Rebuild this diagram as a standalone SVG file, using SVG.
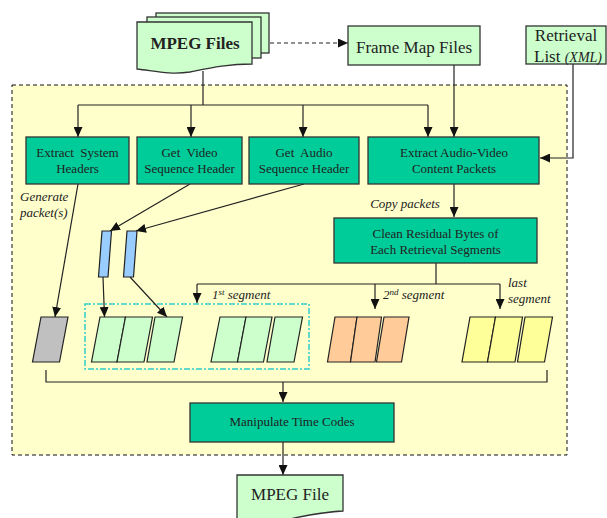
<svg xmlns="http://www.w3.org/2000/svg" width="607" height="518" viewBox="0 0 607 518">
<style>
.t{font-family:"Liberation Serif","Times New Roman",serif;fill:#222;}
.box{fill:#00CC99;stroke:#333;stroke-width:1.3;}
.doc{fill:#CCFFCC;stroke:#333;stroke-width:1.3;}
.lbl{font-size:13px;text-anchor:middle;}
.it{font-size:13px;font-style:italic;}
.ln{fill:none;stroke:#222;stroke-width:1.2;}
.pk{stroke:#222;stroke-width:1.2;}
.g{fill:#CCFFCC;}
.o{fill:#FFCC99;}
.y{fill:#FFFF99;}
.gr{fill:#C0C0C0;}
.b{fill:#99CCFF;}
</style>
<defs>
<marker id="ah" markerUnits="userSpaceOnUse" markerWidth="10" markerHeight="9" refX="10" refY="4.5" orient="auto">
<path d="M0,0 L10,4.5 L0,9 Z" fill="#111"/>
</marker>
</defs>

<rect id="frame" x="12" y="85" width="555" height="370" fill="#FFFFCC" stroke="#111" stroke-width="1" stroke-dasharray="4,3"/>
<rect id="segbox" x="85" y="304" width="224" height="65" fill="none" stroke="#33CCCC" stroke-width="1.5" stroke-dasharray="6,2,2,2"/>

<g id="connectors">
<path class="ln" d="M270,43 H348" stroke-dasharray="4,3" marker-end="url(#ah)"/>
<path class="ln" d="M203,71 V105"/>
<path class="ln" d="M78,105 H428"/>
<path class="ln" d="M78,105 V137" marker-end="url(#ah)"/>
<path class="ln" d="M191,105 V137" marker-end="url(#ah)"/>
<path class="ln" d="M303,105 V137" marker-end="url(#ah)"/>
<path class="ln" d="M428,105 V137" marker-end="url(#ah)"/>
<path class="ln" d="M454,65 V137" marker-end="url(#ah)"/>
<path class="ln" d="M573,64 V158 H540" marker-end="url(#ah)"/>
<path class="ln" d="M454,184 V217" marker-end="url(#ah)"/>
<path class="ln" d="M78,184 L55,317" marker-end="url(#ah)"/>
<path class="ln" d="M190,184 L110,231" marker-end="url(#ah)"/>
<path class="ln" d="M304,184 L136,231" marker-end="url(#ah)"/>
<path class="ln" d="M103,277 L104.5,317" marker-end="url(#ah)"/>
<path class="ln" d="M130,277 L167,317" marker-end="url(#ah)"/>
<path class="ln" d="M436,263 V284"/>
<path class="ln" d="M197,284 H500"/>
<path class="ln" d="M197,284 V303" marker-end="url(#ah)"/>
<path class="ln" d="M375,284 V309" marker-end="url(#ah)"/>
<path class="ln" d="M500,284 V309" marker-end="url(#ah)"/>
<path class="ln" d="M46,370 V382 H547 V370" stroke-width="1.5"/>
<path class="ln" d="M283,382 V402" marker-end="url(#ah)"/>
<path class="ln" d="M283,442 V475" marker-end="url(#ah)"/>
</g>

<g id="mpeg-files">
<rect class="doc" x="156" y="13" width="113" height="40"/>
<rect class="doc" x="147" y="17" width="114" height="41"/>
<path class="doc" d="M137,22 H252 V64 C228,64 210,68 190,72 C170,75 155,71 137,69 Z"/>
<text class="t" x="195" y="49" font-size="17" font-weight="bold" text-anchor="middle">MPEG Files</text>
</g>

<g id="frame-map">
<rect class="doc" x="348" y="26" width="132" height="39"/>
<text class="t" x="414" y="53" font-size="17" text-anchor="middle">Frame Map Files</text>
</g>

<g id="retrieval">
<rect class="doc" x="526" y="26" width="80" height="38"/>
<text class="t" x="566" y="41" font-size="17" text-anchor="middle">Retrieval</text>
<text class="t" x="534" y="62" font-size="17">List <tspan font-size="14" font-style="italic">(XML)</tspan></text>
</g>

<g id="extract-system">
<rect class="box" x="26" y="137" width="103" height="47"/>
<text class="t lbl" x="77.5" y="157" xml:space="preserve">Extract  System</text>
<text class="t lbl" x="77.5" y="173">Headers</text>
</g>

<g id="get-video">
<rect class="box" x="137" y="137" width="105" height="47"/>
<text class="t lbl" x="189.5" y="157" xml:space="preserve">Get  Video</text>
<text class="t lbl" x="189.5" y="173">Sequence Header</text>
</g>

<g id="get-audio">
<rect class="box" x="249" y="137" width="110" height="47"/>
<text class="t lbl" x="304" y="157" xml:space="preserve">Get  Audio</text>
<text class="t lbl" x="304" y="173">Sequence Header</text>
</g>

<g id="extract-av">
<rect class="box" x="368" y="137" width="171" height="47"/>
<text class="t lbl" x="454" y="157">Extract Audio-Video</text>
<text class="t lbl" x="454" y="173">Content Packets</text>
</g>

<g id="clean">
<rect class="box" x="334" y="218" width="203" height="45"/>
<text class="t lbl" x="435.5" y="238">Clean Residual Bytes of</text>
<text class="t lbl" x="435.5" y="253.5">Each Retrieval Segments</text>
</g>

<g id="manipulate">
<rect class="box" x="190" y="403" width="204" height="39"/>
<text class="t lbl" x="292" y="426">Manipulate Time Codes</text>
</g>

<g id="mpeg-file">
<path class="doc" d="M237,475 H343 V511 C320,512 300,517 280,521 L237,527 Z"/>
<text class="t" x="290" y="500" font-size="17" text-anchor="middle">MPEG File</text>
</g>

<g id="labels">
<text class="t it" x="20" y="201">Generate</text>
<text class="t it" x="20" y="217">packet(s)</text>
<text class="t it" x="405" y="208" text-anchor="middle">Copy packets</text>
<text class="t it" x="212" y="299">1<tspan font-size="9" dy="-4">st</tspan><tspan dy="4"> segment</tspan></text>
<text class="t it" x="383" y="299">2<tspan font-size="9" dy="-4">nd</tspan><tspan dy="4"> segment</tspan></text>
<text class="t it" x="508" y="287">last</text>
<text class="t it" x="508" y="303">segment</text>
</g>

<g id="header-packets">
<polygon class="pk b" points="102,231 111.5,231 108,277 98.5,277"/>
<polygon class="pk b" points="127,231 137,231 133.5,277 123.5,277"/>
</g>

<g id="system-packet">
<polygon class="pk gr" points="41,317 68,317 59.5,362 32.5,362"/>
</g>

<g id="segment-1">
<polygon class="pk g" points="100,317 125.5,317 117,362 91.5,362"/>
<polygon class="pk g" points="125.5,317 152.5,317 144,362 117,362"/>
<polygon class="pk g" points="155,317 182.5,317 174,362 147,362"/>
<polygon class="pk g" points="220,317 246,317 237.5,362 211,362"/>
<polygon class="pk g" points="246,317 272,317 263.5,362 237.5,362"/>
<polygon class="pk g" points="275,317 302.5,317 294,362 267,362"/>
</g>

<g id="segment-2">
<polygon class="pk o" points="335,317 357,317 350.5,362 327.5,362"/>
<polygon class="pk o" points="357,317 381.5,317 375,362 350.5,362"/>
<polygon class="pk o" points="384,317 409,317 401.5,362 376.5,362"/>
</g>

<g id="segment-last">
<polygon class="pk y" points="470,317 495.5,317 487.5,362 462,362"/>
<polygon class="pk y" points="495.5,317 522.5,317 515,362 487.5,362"/>
<polygon class="pk y" points="525,317 552.5,317 544.5,362 517.5,362"/>
</g>
</svg>
